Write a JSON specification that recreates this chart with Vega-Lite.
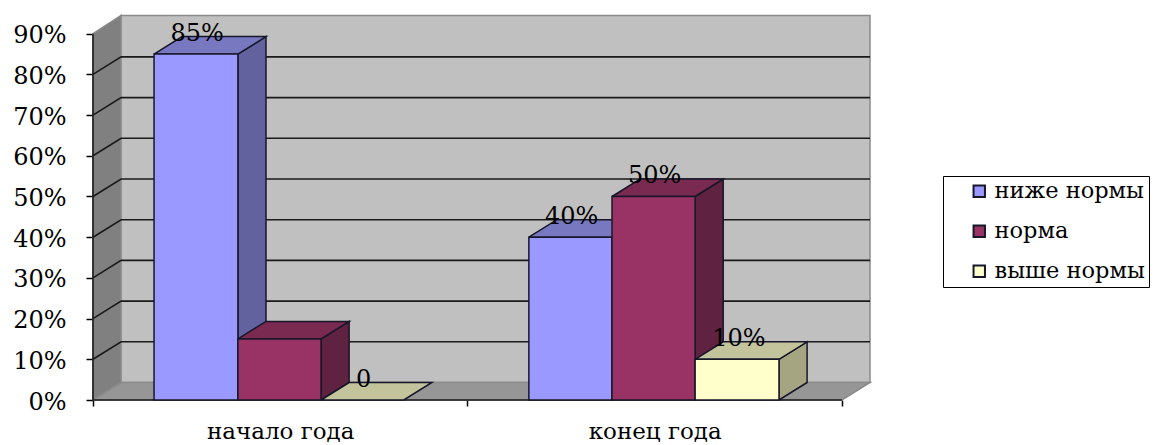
{"$schema":"https://vega.github.io/schema/vega-lite/v6.json","width":777,"height":386,"autosize":"none","padding":{"left":93,"top":14,"right":290,"bottom":45},"background":"white","config":{"view":{"stroke":null},"font":"DejaVu Serif"},
"datasets":{"walls":[
{"p":"w1","part":"стена","o":0,"x":0,"y":0},{"p":"w1","part":"стена","o":1,"x":7.5,"y":4.3},{"p":"w1","part":"стена","o":2,"x":7.5,"y":94.5},{"p":"w1","part":"стена","o":3,"x":0,"y":90},{"p":"w1","part":"стена","o":4,"x":0,"y":0},
{"p":"w2","part":"задняя стена","o":0,"x":7.5,"y":4.3},{"p":"w2","part":"задняя стена","o":1,"x":207.5,"y":4.3},{"p":"w2","part":"задняя стена","o":2,"x":207.5,"y":94.5},{"p":"w2","part":"задняя стена","o":3,"x":7.5,"y":94.5},{"p":"w2","part":"задняя стена","o":4,"x":7.5,"y":4.3},
{"p":"w3","part":"пол","o":0,"x":0,"y":0},{"p":"w3","part":"пол","o":1,"x":7.5,"y":4.3},{"p":"w3","part":"пол","o":2,"x":207.5,"y":4.3},{"p":"w3","part":"пол","o":3,"x":200,"y":0},{"p":"w3","part":"пол","o":4,"x":0,"y":0}],
"grid":[
{"g":"g10","o":0,"x":0,"y":10},{"g":"g10","o":1,"x":7.5,"y":14.3},{"g":"g10","o":2,"x":207.5,"y":14.3},
{"g":"g20","o":0,"x":0,"y":20},{"g":"g20","o":1,"x":7.5,"y":24.3},{"g":"g20","o":2,"x":207.5,"y":24.3},
{"g":"g30","o":0,"x":0,"y":30},{"g":"g30","o":1,"x":7.5,"y":34.3},{"g":"g30","o":2,"x":207.5,"y":34.3},
{"g":"g40","o":0,"x":0,"y":40},{"g":"g40","o":1,"x":7.5,"y":44.3},{"g":"g40","o":2,"x":207.5,"y":44.3},
{"g":"g50","o":0,"x":0,"y":50},{"g":"g50","o":1,"x":7.5,"y":54.3},{"g":"g50","o":2,"x":207.5,"y":54.3},
{"g":"g60","o":0,"x":0,"y":60},{"g":"g60","o":1,"x":7.5,"y":64.3},{"g":"g60","o":2,"x":207.5,"y":64.3},
{"g":"g70","o":0,"x":0,"y":70},{"g":"g70","o":1,"x":7.5,"y":74.3},{"g":"g70","o":2,"x":207.5,"y":74.3},
{"g":"g80","o":0,"x":0,"y":80},{"g":"g80","o":1,"x":7.5,"y":84.3},{"g":"g80","o":2,"x":207.5,"y":84.3},
{"g":"front","o":0,"x":0,"y":90},{"g":"front","o":1,"x":0,"y":0},{"g":"front","o":2,"x":200,"y":0}],
"faces":[
{"p":"As","part":"ниже нормы бок","o":0,"x":38.7,"y":0},{"p":"As","part":"ниже нормы бок","o":1,"x":46.2,"y":4.3},{"p":"As","part":"ниже нормы бок","o":2,"x":46.2,"y":89.3},{"p":"As","part":"ниже нормы бок","o":3,"x":38.7,"y":85},{"p":"As","part":"ниже нормы бок","o":4,"x":38.7,"y":0},
{"p":"Bs","part":"норма бок","o":0,"x":60.9,"y":0},{"p":"Bs","part":"норма бок","o":1,"x":68.4,"y":4.3},{"p":"Bs","part":"норма бок","o":2,"x":68.4,"y":19.3},{"p":"Bs","part":"норма бок","o":3,"x":60.9,"y":15},{"p":"Bs","part":"норма бок","o":4,"x":60.9,"y":0},
{"p":"Ds","part":"ниже нормы бок","o":0,"x":138.6,"y":0},{"p":"Ds","part":"ниже нормы бок","o":1,"x":146.1,"y":4.3},{"p":"Ds","part":"ниже нормы бок","o":2,"x":146.1,"y":44.3},{"p":"Ds","part":"ниже нормы бок","o":3,"x":138.6,"y":40},{"p":"Ds","part":"ниже нормы бок","o":4,"x":138.6,"y":0},
{"p":"Es","part":"норма бок","o":0,"x":160.8,"y":0},{"p":"Es","part":"норма бок","o":1,"x":168.3,"y":4.3},{"p":"Es","part":"норма бок","o":2,"x":168.3,"y":54.3},{"p":"Es","part":"норма бок","o":3,"x":160.8,"y":50},{"p":"Es","part":"норма бок","o":4,"x":160.8,"y":0},
{"p":"Fs","part":"выше нормы бок","o":0,"x":183.2,"y":0},{"p":"Fs","part":"выше нормы бок","o":1,"x":190.7,"y":4.3},{"p":"Fs","part":"выше нормы бок","o":2,"x":190.7,"y":14.3},{"p":"Fs","part":"выше нормы бок","o":3,"x":183.2,"y":10},{"p":"Fs","part":"выше нормы бок","o":4,"x":183.2,"y":0},
{"p":"At","part":"ниже нормы верх","o":0,"x":16.3,"y":85},{"p":"At","part":"ниже нормы верх","o":1,"x":38.7,"y":85},{"p":"At","part":"ниже нормы верх","o":2,"x":46.2,"y":89.3},{"p":"At","part":"ниже нормы верх","o":3,"x":23.8,"y":89.3},{"p":"At","part":"ниже нормы верх","o":4,"x":16.3,"y":85},
{"p":"Bt","part":"норма верх","o":0,"x":38.7,"y":15},{"p":"Bt","part":"норма верх","o":1,"x":60.9,"y":15},{"p":"Bt","part":"норма верх","o":2,"x":68.4,"y":19.3},{"p":"Bt","part":"норма верх","o":3,"x":46.2,"y":19.3},{"p":"Bt","part":"норма верх","o":4,"x":38.7,"y":15},
{"p":"Ct","part":"выше нормы верх","o":0,"x":60.9,"y":0},{"p":"Ct","part":"выше нормы верх","o":1,"x":83,"y":0},{"p":"Ct","part":"выше нормы верх","o":2,"x":90.5,"y":4.3},{"p":"Ct","part":"выше нормы верх","o":3,"x":68.4,"y":4.3},{"p":"Ct","part":"выше нормы верх","o":4,"x":60.9,"y":0},
{"p":"Dt","part":"ниже нормы верх","o":0,"x":116.4,"y":40},{"p":"Dt","part":"ниже нормы верх","o":1,"x":138.6,"y":40},{"p":"Dt","part":"ниже нормы верх","o":2,"x":146.1,"y":44.3},{"p":"Dt","part":"ниже нормы верх","o":3,"x":123.9,"y":44.3},{"p":"Dt","part":"ниже нормы верх","o":4,"x":116.4,"y":40},
{"p":"Et","part":"норма верх","o":0,"x":138.6,"y":50},{"p":"Et","part":"норма верх","o":1,"x":160.8,"y":50},{"p":"Et","part":"норма верх","o":2,"x":168.3,"y":54.3},{"p":"Et","part":"норма верх","o":3,"x":146.1,"y":54.3},{"p":"Et","part":"норма верх","o":4,"x":138.6,"y":50},
{"p":"Ft","part":"выше нормы верх","o":0,"x":160.8,"y":10},{"p":"Ft","part":"выше нормы верх","o":1,"x":183.2,"y":10},{"p":"Ft","part":"выше нормы верх","o":2,"x":190.7,"y":14.3},{"p":"Ft","part":"выше нормы верх","o":3,"x":168.3,"y":14.3},{"p":"Ft","part":"выше нормы верх","o":4,"x":160.8,"y":10}],
"bars":[
{"period":"начало года","part":"ниже нормы","x0":16.3,"x1":38.7,"c":27.8,"value":85,"label":"85%"},
{"period":"начало года","part":"норма","x0":38.7,"x1":60.9,"c":50.1,"value":15,"label":""},
{"period":"начало года","part":"выше нормы","x0":60.9,"x1":83,"c":72.3,"value":0,"label":"0"},
{"period":"конец года","part":"ниже нормы","x0":116.4,"x1":138.6,"c":127.8,"value":40,"label":"40%"},
{"period":"конец года","part":"норма","x0":138.6,"x1":160.8,"c":150,"value":50,"label":"50%"},
{"period":"конец года","part":"выше нормы","x0":160.8,"x1":183.2,"c":172.5,"value":10,"label":"10%"}]},
"data":{"name":"bars"},
"resolve":{"scale":{"x":"shared","y":"shared","fill":"shared"}},
"layer":[
{"data":{"name":"walls"},"mark":{"type":"line","stroke":"#8a8a8a","strokeWidth":1.5,"filled":false},
"encoding":{"x":{"field":"x","type":"quantitative","scale":{"domain":[0,207.5],"nice":false,"zero":false},
"axis":{"title":null,"grid":false,"domain":false,"values":[0,50,100,150,200],"labelExpr":"datum.value==50?'начало года':datum.value==150?'конец года':''","labelFont":"DejaVu Serif","labelFontSize":23,"labelColor":"#000","labelPadding":20,"tickColor":"#000","tickWidth":1.5,"tickSize":{"condition":{"test":"datum.value==50||datum.value==150","value":0},"value":6}}},
"y":{"field":"y","type":"quantitative","scale":{"domain":[0,94.84],"nice":false,"zero":false},
"axis":{"title":null,"grid":false,"domain":false,"values":[0,10,20,30,40,50,60,70,80,90],"labelExpr":"datum.value+'%'","labelFont":"DejaVu Serif","labelFontSize":24,"labelColor":"#000","labelPadding":20,"labelOffset":2,"tickColor":"#000","tickWidth":1.5,"tickSize":7}},
"order":{"field":"o","type":"quantitative"},"detail":{"field":"p"},
"fill":{"field":"part","type":"nominal","scale":{"domain":["ниже нормы","норма","выше нормы","ниже нормы бок","норма бок","выше нормы бок","ниже нормы верх","норма верх","выше нормы верх","стена","задняя стена","пол"],"range":["#9999ff","#993366","#ffffcc","#62629f","#5f2240","#a5a582","#7878c0","#7a2950","#c3c39c","#808080","#c0c0c0","#969696"]},
"legend":{"title":null,"orient":"none","legendX":850,"legendY":162,"values":["ниже нормы","норма","выше нормы"],"fillColor":"#fff","strokeColor":"#000","padding":4,"symbolType":"square","symbolSize":130,"symbolStrokeColor":"#000","symbolStrokeWidth":2,"symbolOffset":21,"labelFont":"DejaVu Serif","labelFontSize":22.5,"labelColor":"#000","labelOffset":4,"rowPadding":17}}}},
{"data":{"name":"grid"},"mark":{"type":"line","stroke":"#1a1a1a","strokeWidth":1.6,"filled":false},"encoding":{"x":{"field":"x","type":"quantitative"},"y":{"field":"y","type":"quantitative"},"order":{"field":"o","type":"quantitative"},"detail":{"field":"g"}}},
{"data":{"name":"faces"},"mark":{"type":"line","stroke":"#17172a","strokeWidth":1.5,"filled":false},"encoding":{"x":{"field":"x","type":"quantitative"},"y":{"field":"y","type":"quantitative"},"order":{"field":"o","type":"quantitative"},"detail":{"field":"p"},"fill":{"field":"part","type":"nominal"}}},
{"transform":[{"filter":"datum.value>0"}],"mark":{"type":"rect","stroke":"#17172a","strokeWidth":1.5},"encoding":{"x":{"field":"x0","type":"quantitative"},"x2":{"field":"x1"},"y":{"field":"value","type":"quantitative"},"y2":{"datum":0},"fill":{"field":"part","type":"nominal"}}},
{"mark":{"type":"text","font":"DejaVu Serif","fontSize":24,"color":"#000","dy":-20,"baseline":"middle","align":"center"},"encoding":{"x":{"field":"c","type":"quantitative"},"y":{"field":"value","type":"quantitative"},"text":{"field":"label"}}}
]}
